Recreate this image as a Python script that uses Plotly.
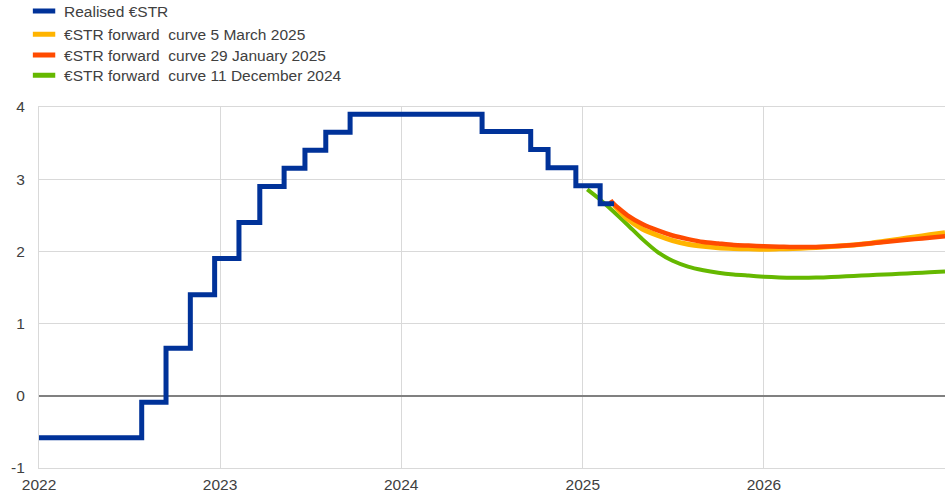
import plotly.graph_objects as go

# Realised €STR: step-change dates and levels (hold until next date)
realised_dates = ['2022-01-01', '2022-07-27', '2022-09-14', '2022-11-02', '2022-12-21',
                  '2023-02-08', '2023-03-22', '2023-05-10', '2023-06-21', '2023-08-02',
                  '2023-09-20', '2024-06-12', '2024-09-18', '2024-10-23', '2024-12-18',
                  '2025-02-05', '2025-03-05']
realised_values = [-0.58, -0.09, 0.66, 1.40, 1.90, 2.40, 2.90, 3.15, 3.40, 3.65,
                   3.90, 3.66, 3.41, 3.16, 2.91, 2.66, 2.66]

# Forward curve 5 March 2025
mar_dates = ['2025-03-05', '2025-04-01', '2025-05-01', '2025-06-01', '2025-07-01', '2025-08-01',
             '2025-09-01', '2025-10-01', '2025-11-01', '2025-12-01', '2026-01-01', '2026-02-01',
             '2026-03-01', '2026-04-01', '2026-05-01', '2026-06-01', '2026-07-01', '2026-08-01',
             '2026-09-01', '2026-10-01', '2026-11-01', '2026-12-01', '2027-01-01']
mar_values = [2.64, 2.45, 2.31, 2.22, 2.15, 2.10, 2.07, 2.05, 2.04, 2.035, 2.03, 2.035,
              2.04, 2.05, 2.06, 2.075, 2.09, 2.11, 2.14, 2.17, 2.20, 2.23, 2.26]

# Forward curve 29 January 2025
jan_dates = ['2025-02-26', '2025-03-01', '2025-04-01', '2025-05-01', '2025-06-01', '2025-07-01',
             '2025-08-01', '2025-09-01', '2025-10-01', '2025-11-01', '2025-12-01', '2026-01-01',
             '2026-02-01', '2026-03-01', '2026-04-01', '2026-05-01', '2026-06-01', '2026-07-01',
             '2026-08-01', '2026-09-01', '2026-10-01', '2026-11-01', '2026-12-01', '2027-01-01']
jan_values = [2.71, 2.68, 2.50, 2.38, 2.29, 2.22, 2.17, 2.13, 2.11, 2.09, 2.08, 2.07,
              2.065, 2.06, 2.06, 2.065, 2.075, 2.09, 2.11, 2.13, 2.15, 2.17, 2.19, 2.21]

# Forward curve 11 December 2024
dec_dates = ['2025-01-10', '2025-02-01', '2025-03-01', '2025-04-01', '2025-05-01', '2025-06-01',
             '2025-07-01', '2025-08-01', '2025-09-01', '2025-10-01', '2025-11-01', '2025-12-01',
             '2026-01-01', '2026-02-01', '2026-03-01', '2026-04-01', '2026-05-01', '2026-06-01',
             '2026-07-01', '2026-08-01', '2026-09-01', '2026-10-01', '2026-11-01', '2026-12-01',
             '2027-01-01']
dec_values = [2.86, 2.74, 2.57, 2.37, 2.17, 1.99, 1.87, 1.79, 1.74, 1.705, 1.68, 1.665,
              1.65, 1.64, 1.635, 1.635, 1.64, 1.65, 1.66, 1.67, 1.68, 1.69, 1.70, 1.71, 1.72]

series_names = ['Realised €STR', '€STR forward  curve 5 March 2025',
                '€STR forward  curve 29 January 2025', '€STR forward  curve 11 December 2024']
colors = ['#003299', '#FFB400', '#FF4B00', '#65B800']

x_tickvals = ['2022-01-01', '2023-01-01', '2024-01-01', '2025-01-01', '2026-01-01']
x_ticktext = ['2022', '2023', '2024', '2025', '2026']
y_tickvals = [-1, 0, 1, 2, 3, 4]
y_ticktext = ['-1', '0', '1', '2', '3', '4']

fig = go.Figure()

# data lines (drawn: green, yellow, red, blue on top)
fig.add_trace(go.Scatter(x=dec_dates, y=dec_values, mode='lines',
                         line=dict(color=colors[3], width=4, shape='spline', smoothing=0.7), showlegend=False))
fig.add_trace(go.Scatter(x=mar_dates, y=mar_values, mode='lines',
                         line=dict(color=colors[1], width=5, shape='spline', smoothing=0.7), showlegend=False))
fig.add_trace(go.Scatter(x=jan_dates, y=jan_values, mode='lines',
                         line=dict(color=colors[2], width=4.5, shape='spline', smoothing=0.7), showlegend=False))
fig.add_trace(go.Scatter(x=realised_dates, y=realised_values, mode='lines',
                         line=dict(color=colors[0], width=5, shape='hv'), showlegend=False))

font_color = '#404040'
font_family = 'Liberation Sans, Arial, sans-serif'

# legend entries with short swatches, one legend per entry for exact spacing
legend_keys = ['legend', 'legend2', 'legend3', 'legend4']
legend_y = [1.312, 1.2477, 1.1897, 1.134]
for name, c, key in zip(series_names, colors, legend_keys):
    fig.add_trace(go.Scatter(x=[None], y=[None], mode='markers', name=name, legend=key,
                             marker=dict(symbol='line-ew', size=16, color=c, line=dict(width=5, color=c))))

layout_legends = {}
for key, ly in zip(legend_keys, legend_y):
    layout_legends[key] = dict(x=-0.0165, y=ly, xanchor='left', yanchor='top', bgcolor='rgba(0,0,0,0)',
                               font=dict(family=font_family, size=15.5, color=font_color),
                               itemsizing='trace')

fig.update_layout(
    width=947, height=495,
    template='none',
    paper_bgcolor='white', plot_bgcolor='white',
    margin=dict(l=39, r=2, t=107, b=27, autoexpand=False),
    font=dict(family=font_family, size=15.5, color=font_color),
    showlegend=True,
    xaxis=dict(type='date', range=['2022-01-01', '2027-01-01'], tickvals=x_tickvals, ticktext=x_ticktext,
               showgrid=True, gridcolor='#d9d9d9', gridwidth=1, showline=True, linecolor='#d9d9d9',
               linewidth=1, mirror=True, ticks='', zeroline=False, automargin=False,
               ticklabelstandoff=2, tickfont=dict(family=font_family, size=15.5, color=font_color)),
    yaxis=dict(range=[-1, 4], tickvals=y_tickvals, ticktext=y_ticktext, showgrid=True, gridcolor='#d9d9d9',
               gridwidth=1, showline=True, linecolor='#d9d9d9', linewidth=1, zeroline=True,
               zerolinecolor='#808080', zerolinewidth=1.5, ticks='', automargin=False, ticklabelstandoff=10,
               tickfont=dict(family=font_family, size=15.5, color=font_color)),
    **layout_legends,
)

fig.write_html('out.html', config={'displayModeBar': False},
               post_script="document.body.style.margin='0';")
